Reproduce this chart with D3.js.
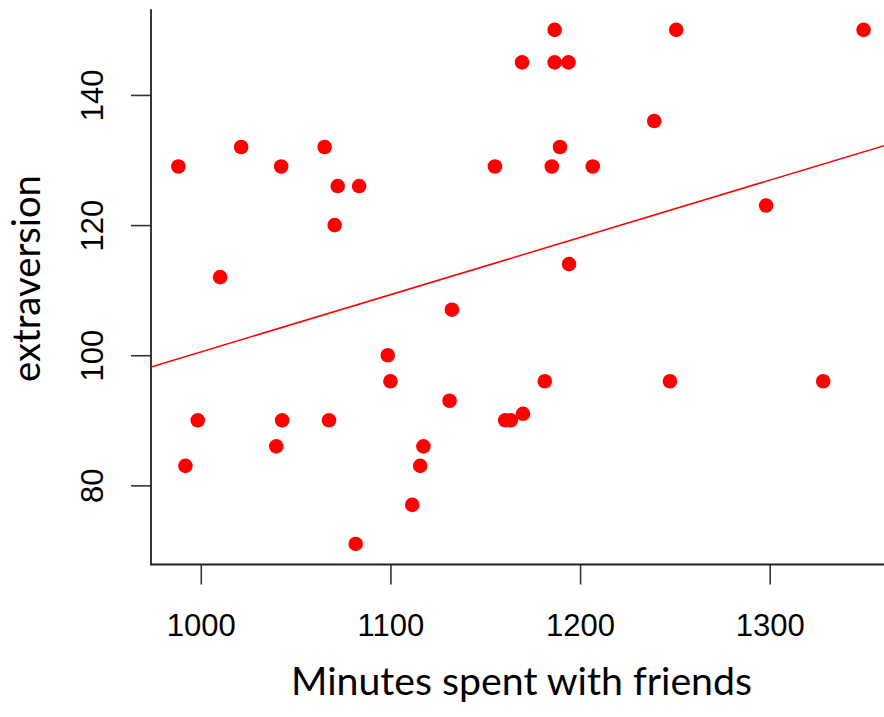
<!DOCTYPE html>
<html>
<head>
<meta charset="utf-8">
<script src="https://cdn.jsdelivr.net/npm/d3@7"></script>
<style>
  html, body { margin: 0; padding: 0; background: #fff; }
  svg { display: block; }
</style>
</head>
<body>
<svg id="chart" width="884" height="717"></svg>
<script>
// Minutes spent with friends vs. extraversion score, one entry per person
const minutes = [
  988.2, 1021.3, 1042.4, 1065.3, 1072.2, 1083.5, 1070.6, 1010.2, 1098.6, 1100.0,
  998.4, 1042.9, 1067.6, 1039.8, 991.9, 1081.7, 1186.6, 1250.7, 1169.4, 1186.6,
  1193.9, 1239.1, 1189.4, 1155.1, 1185.1, 1206.7, 1194.2, 1132.4, 1181.4, 1247.4,
  1131.2, 1160.5, 1163.5, 1169.9, 1117.4, 1115.7, 1111.5, 1349.5, 1298.1, 1328.2
];
const extraversion = [
  129, 132, 129, 132, 126, 126, 120, 112, 100, 96,
  90, 90, 90, 86, 83, 71, 150, 150, 145, 145,
  145, 136, 132, 129, 129, 129, 114, 107, 96, 96,
  93, 90, 90, 91, 86, 83, 77, 150, 123, 96
];
const xTicks = [1000, 1100, 1200, 1300];
const yTicks = [80, 100, 120, 140];

// fitted line: extraversion = intercept + slope * minutes
const fitIntercept = 12.5;
const fitSlope = 0.088;

(function () {
  const svg = d3.select("#chart");
  const W = 884;

  // plot region padded 4% beyond the data range on each side
  const xExt = d3.extent(minutes), yExt = d3.extent(extraversion);
  const xPad = (xExt[1] - xExt[0]) * 0.04, yPad = (yExt[1] - yExt[0]) * 0.04;

  const pLeft = 151, pRight = 891, pTop = 9.3, pBottom = 564.5;
  const x = d3.scaleLinear().domain([xExt[0] - xPad, xExt[1] + xPad]).range([pLeft, pRight]);
  const y = d3.scaleLinear().domain([yExt[0] - yPad, yExt[1] + yPad]).range([pBottom, pTop]);

  const tickFont = "'Liberation Sans', Arial, Helvetica, sans-serif";

  // x axis
  const gx = svg.append("g")
    .attr("transform", `translate(0,${pBottom})`)
    .call(d3.axisBottom(x).tickValues(xTicks).tickSize(20).tickFormat(d3.format("d")));
  gx.select(".domain").remove();
  gx.selectAll(".tick line").attr("stroke", "#333").attr("stroke-width", 1.6);
  gx.selectAll(".tick text")
    .attr("y", 71.2).attr("dy", null)
    .attr("fill", "#000")
    .style("font-family", tickFont).style("font-size", "31px");

  // y axis with rotated labels
  const gy = svg.append("g")
    .attr("transform", `translate(${pLeft},0)`)
    .call(d3.axisLeft(y).tickValues(yTicks).tickSize(20).tickFormat(d3.format("d")));
  gy.select(".domain").remove();
  gy.selectAll(".tick line").attr("stroke", "#333").attr("stroke-width", 1.6);
  gy.selectAll(".tick text")
    .attr("x", null).attr("dy", null)
    .attr("transform", "translate(-47.7,0) rotate(-90)")
    .attr("text-anchor", "middle")
    .attr("fill", "#000")
    .style("font-family", tickFont).style("font-size", "31px");

  // L-shaped frame
  svg.append("path")
    .attr("d", `M${pLeft},${pTop}V${pBottom}H${W}`)
    .attr("fill", "none")
    .attr("stroke", "#222")
    .attr("stroke-width", 1.8);

  // clip to plot region for the fitted line
  svg.append("clipPath").attr("id", "plotclip")
    .append("rect").attr("x", pLeft).attr("y", pTop)
    .attr("width", pRight - pLeft).attr("height", pBottom - pTop);

  const [d0, d1] = x.domain();
  svg.append("line")
    .attr("clip-path", "url(#plotclip)")
    .attr("x1", x(d0)).attr("y1", y(fitIntercept + fitSlope * d0))
    .attr("x2", x(d1)).attr("y2", y(fitIntercept + fitSlope * d1))
    .attr("stroke", "#ff0000")
    .attr("stroke-width", 1.5);

  // points
  svg.append("g").selectAll("circle")
    .data(minutes.map((m, i) => ({ m, e: extraversion[i] })))
    .join("circle")
    .attr("cx", d => x(d.m))
    .attr("cy", d => y(d.e))
    .attr("r", 7.3)
    .attr("fill", "#ff0000");

  // axis titles
  const titleFont = "Lato, 'Open Sans', 'Noto Sans', sans-serif";
  const xt = svg.append("text")
    .attr("x", 521.5).attr("y", 694.5)
    .attr("text-anchor", "middle")
    .style("font-family", titleFont).style("font-size", "32px")
    .attr("fill", "#000")
    .text("Minutes spent with friends");
  const xw = xt.node().getComputedTextLength();
  xt.style("font-size", (32 * 461 / xw).toFixed(2) + "px");

  const yt = svg.append("text")
    .attr("transform", "translate(39.5,278.5) rotate(-90)")
    .attr("text-anchor", "middle")
    .style("font-family", titleFont).style("font-size", "32px")
    .attr("fill", "#000")
    .text("extraversion");
  const yw = yt.node().getComputedTextLength();
  yt.style("font-size", (32 * 207 / yw).toFixed(2) + "px");
})();
</script>
</body>
</html>
